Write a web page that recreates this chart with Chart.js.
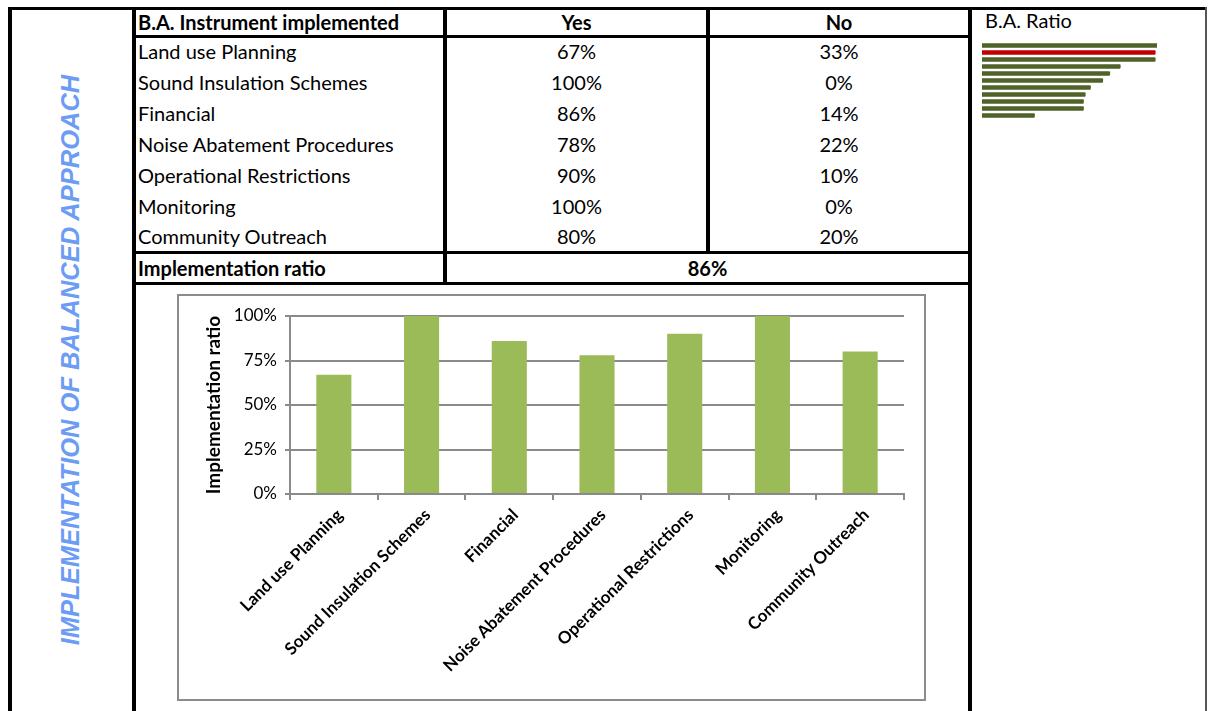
<!DOCTYPE html>
<html>
<head>
<meta charset="utf-8">
<title>Implementation of balanced approach</title>
<script src="https://cdn.jsdelivr.net/npm/chart.js"></script>
<style>
    body { margin: 0; background: #fff; font-family: Lato, "Noto Sans", sans-serif; }
    #page { position: relative; width: 1211px; height: 711px; overflow: hidden; }
    .line { position: absolute; background: #000; }
    .cell { position: absolute; font-size: 20px; line-height: 24px; height: 24px; color: #000; white-space: nowrap; }
    .bold { font-weight: bold; }
    .center { text-align: center; }
    #sideTitle {
        position: absolute; left: -280px; top: 345px; width: 700px; height: 30px; line-height: 30px;
        text-align: center; transform: rotate(-90deg); transform-origin: 350px 15px;
        font-family: "Liberation Sans", Arial, sans-serif; font-weight: bold; font-style: italic;
        font-size: 25.5px; color: #6c9cf4; white-space: nowrap;
    }
    #chartBox { position: absolute; left: 177px; top: 294px; width: 745px; height: 403px; border: 2px solid #8c8c8c; }
    #ratioBox { position: absolute; left: 982px; top: 42px; width: 175px; height: 77px; }
</style>
</head>
<body>
<div id="page">
    <!-- frame -->
    <div class="line" style="left:8px;top:7px;width:1199px;height:3px"></div>
    <div class="line" style="left:8px;top:7px;width:4px;height:704px"></div>
    <div class="line" style="left:132px;top:7px;width:4px;height:704px"></div>
    <div class="line" style="left:968px;top:7px;width:4px;height:704px"></div>
    <div class="line" style="left:1205px;top:7px;width:2px;height:704px;background:#555"></div>
    <div class="line" style="left:443px;top:7px;width:4px;height:277px"></div>
    <div class="line" style="left:706px;top:7px;width:4px;height:246px"></div>
    <div class="line" style="left:132px;top:35px;width:840px;height:3px"></div>
    <div class="line" style="left:132px;top:251px;width:840px;height:3px"></div>
    <div class="line" style="left:132px;top:282px;width:840px;height:3px"></div>

    <div id="sideTitle">IMPLEMENTATION OF BALANCED APPROACH</div>
    <div id="table"></div>
    <div class="cell" style="left:985px;top:8px">B.A. Ratio</div>

    <div id="ratioBox"><canvas id="ratioChart"></canvas></div>
    <div id="chartBox"><canvas id="myChart"></canvas></div>
</div>

<script>
const instruments = ["Land use Planning", "Sound Insulation Schemes", "Financial", "Noise Abatement Procedures",
    "Operational Restrictions", "Monitoring", "Community Outreach"];
const yesRatio = [67, 100, 86, 78, 90, 100, 80];
const noRatio = [33, 0, 14, 22, 10, 0, 20];
const implementationRatio = 86;
const yTicks = [0, 25, 50, 75, 100];

// small B.A. Ratio bars on the right, 2nd one is red
const baRatio = [100, 99, 99, 79, 73, 69, 62, 59, 58, 58, 30];
const baHighlight = 1;

// table
let output = "";
output += `<div class="cell bold" style="left:138px;top:10px">B.A. Instrument implemented</div>`;
output += `<div class="cell bold center" style="left:447px;top:10px;width:259px">Yes</div>`;
output += `<div class="cell bold center" style="left:710px;top:10px;width:258px">No</div>`;
instruments.forEach(function (item, i) {
    const top = 39 + i * 30.9;
    output += `<div class="cell" style="left:138px;top:${top}px">${item}</div>`;
    output += `<div class="cell center" style="left:447px;top:${top}px;width:259px">${yesRatio[i]}%</div>`;
    output += `<div class="cell center" style="left:710px;top:${top}px;width:258px">${noRatio[i]}%</div>`;
});
output += `<div class="cell bold" style="left:138px;top:256px">Implementation ratio</div>`;
output += `<div class="cell bold center" style="left:447px;top:256px;width:521px">${implementationRatio}%</div>`;
document.querySelector("#table").innerHTML = output;

Chart.defaults.font.family = "Lato, 'Noto Sans', sans-serif";
Chart.defaults.color = "#000";

const gridColor = "#8a8a8a";
const ctx = document.querySelector("#myChart").getContext("2d");
const myChart = new Chart(ctx, {
    type: "bar",
    data: {
        labels: instruments,
        datasets: [{
            label: "Implementation ratio",
            data: yesRatio,
            backgroundColor: "#9bbb59",
            categoryPercentage: 1,
            barPercentage: 0.4
        }]
    },
    options: {
        responsive: true,
        maintainAspectRatio: false,
        animation: false,
        layout: { padding: { left: 23, top: 20, right: 20, bottom: 0 } },
        plugins: { legend: { display: false }, tooltip: { enabled: false } },
        scales: {
            x: {
                grid: { drawOnChartArea: false, color: gridColor, lineWidth: 2, tickLength: 6 },
                border: { color: gridColor, width: 2 },
                ticks: { font: { size: 17, weight: "bold" }, minRotation: 45, maxRotation: 45, autoSkip: false, padding: 5, labelOffset: 6 },
                afterFit: function (scale) { scale.height = 205; }
            },
            y: {
                min: 0,
                max: 100,
                afterBuildTicks: function (scale) {
                    scale.ticks = yTicks.map(function (v) { return { value: v }; });
                },
                ticks: {
                    font: { size: 17 },
                    padding: 8,
                    callback: function (v) { return v + "%"; }
                },
                grid: { color: gridColor, lineWidth: 2, tickLength: 5 },
                border: { color: gridColor, width: 2 },
                title: { display: true, text: "Implementation ratio", font: { size: 19, weight: "bold" }, padding: 0 },
                afterFit: function (scale) { scale.width = 88; }
            }
        }
    }
});

const ratioCtx = document.querySelector("#ratioChart").getContext("2d");
const ratioChart = new Chart(ratioCtx, {
    type: "bar",
    data: {
        labels: baRatio.map(function (v, i) { return i + 1; }),
        datasets: [{
            data: baRatio,
            backgroundColor: baRatio.map(function (v, i) { return i === baHighlight ? "#c00000" : "#4f6228"; }),
            barThickness: 4,
            borderRadius: 1
        }]
    },
    options: {
        indexAxis: "y",
        responsive: true,
        maintainAspectRatio: false,
        animation: false,
        layout: { padding: 0 },
        plugins: { legend: { display: false }, tooltip: { enabled: false } },
        scales: {
            x: { display: false, min: 0, max: 100 },
            y: { display: false }
        }
    }
});
</script>
</body>
</html>
